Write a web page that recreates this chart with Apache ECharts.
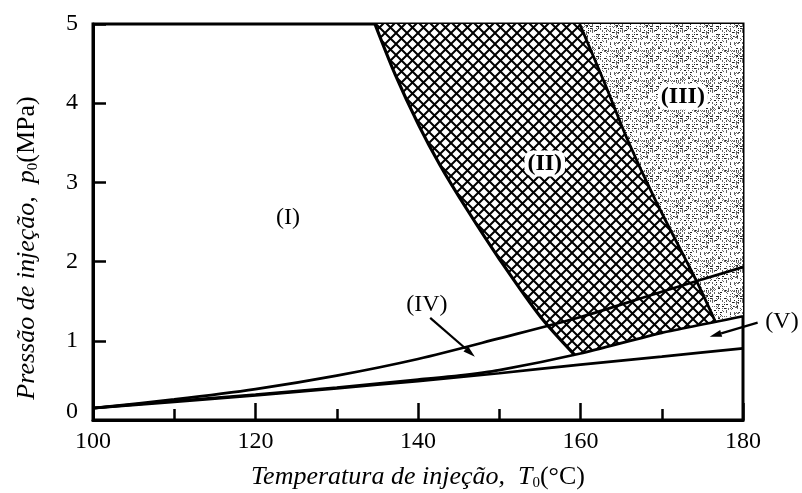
<!DOCTYPE html>
<html><head><meta charset="utf-8">
<script src="https://cdn.jsdelivr.net/npm/echarts@6/dist/echarts.min.js"></script>
<style>html,body{margin:0;padding:0;background:#fff}#c{width:802px;height:493px}</style>
</head><body><div id="c"></div>
<script>
// ---- data (T in °C, p in MPa) ----
const xTicks = [100, 120, 140, 160, 180];
const yTicks = [0, 1, 2, 3, 4, 5];
const upperLine  = [[100,0.15],[110,0.26],[120,0.39],[130,0.56],[140,0.77],[150,1.03],[160,1.30],[170,1.62],[180,1.93]];
const middleLine = [[100,0.15],[110,0.24],[120,0.32],[130,0.41],[140,0.51],[145,0.56],[150,0.63],[160,0.84],[170,1.10],[180,1.31]];
const bottomLine = [[100,0.15],[110,0.23],[120,0.31],[130,0.40],[140,0.49],[145,0.54],[150,0.59],[160,0.70],[170,0.80],[180,0.905]];
const leftBoundary  = [[134.7,5],[137.2,4.36],[140.1,3.72],[142.7,3.22],[145.9,2.68],[150.1,2.02],[155.1,1.30],[159.3,0.82]];
const rightBoundary = [[159.9,5],[162.9,4.27],[165.8,3.535],[169.2,2.78],[174.3,1.75],[176.6,1.24]];
const regionNames = ['(I)', '(II)', '(III)', '(IV)', '(V)'];
const regionT = [124.0, 155.6, 172.6, 141.1, 184.8];
const regionP = [2.56, 3.24, 4.08, 1.45, 1.24];
const arrowFrom = [[141.5, 1.29], [181.8, 1.23]];
const arrowTo   = [[147.0, 0.80], [175.9, 1.05]];

// ---- build regions from the curves ----
const yMax = yTicks[yTicks.length - 1];
const xMax = xTicks[xTicks.length - 1];
const lBot = leftBoundary[leftBoundary.length - 1];
const rBot = rightBoundary[rightBoundary.length - 1];
const regionII = leftBoundary
  .concat(middleLine.filter(p => p[0] > lBot[0] && p[0] < rBot[0]))
  .concat(rightBoundary.slice().reverse());
const regionIII = rightBoundary
  .concat(middleLine.filter(p => p[0] > rBot[0]))
  .concat([[xMax, yMax]]);

// ---- textures ----
function crossHatch() {
  const s = 11;
  const c = document.createElement('canvas'); c.width = s; c.height = s;
  const g = c.getContext('2d');
  g.fillStyle = '#fff'; g.fillRect(0, 0, s, s);
  g.strokeStyle = '#000'; g.lineWidth = 2.0;
  g.beginPath(); g.moveTo(-1, -1); g.lineTo(s + 1, s + 1); g.moveTo(s + 1, -1); g.lineTo(-1, s + 1); g.stroke();
  return { image: c, repeat: 'repeat' };
}
function stipple() {
  const s = 30;
  const c = document.createElement('canvas'); c.width = s; c.height = s;
  const g = c.getContext('2d');
  g.fillStyle = '#fff'; g.fillRect(0, 0, s, s);
  let h = 98765;
  const nxt = () => { h = (h * 1103515245 + 12345) & 0x7fffffff; return h >> 4; };
  for (let i = 0; i < 165; i++) {
    const x = nxt() % s, y = nxt() % s, k = nxt() % 5;
    g.fillStyle = (k < 2) ? '#222' : '#666';
    if (k === 1) g.fillRect(x, y, 2, 1);
    else if (k === 2) g.fillRect(x, y, 1, 2);
    else if (k === 3) { g.fillRect(x, y, 1, 1); g.fillRect(x + 1, y + 1, 1, 1); }
    else g.fillRect(x, y, 1, 1);
  }
  return { image: c, repeat: 'repeat' };
}

const FONT = 'Liberation Serif';
const black = '#000';

function polySeries(points, fill) {
  return {
    type: 'custom', coordinateSystem: 'cartesian2d', z: 1, silent: true,
    data: [[points[0][0], points[0][1]]],
    renderItem: (params, api) => ({
      type: 'polygon',
      shape: { points: points.map(p => api.coord(p)) },
      style: { fill: fill, stroke: null }
    })
  };
}
function lineSeries(data, w, smooth) {
  return { type: 'line', data: data, showSymbol: false, symbol: 'none', z: 3, silent: true,
    smooth: smooth, lineStyle: { color: black, width: w } };
}
const titleRich = {
  i: { fontFamily: FONT, fontSize: 26, fontStyle: 'italic', fill: black, lineHeight: 28 },
  s: { fontFamily: FONT, fontSize: 15, fill: black, lineHeight: 8, verticalAlign: 'bottom' },
  n: { fontFamily: FONT, fontSize: 26, fill: black, lineHeight: 28 }
};

const chart = echarts.init(document.getElementById('c'), null, { renderer: 'canvas' });
chart.setOption({
  animation: false,
  backgroundColor: '#fff',
  grid: { left: 93, right: 59, top: 24, bottom: 73, show: true, borderColor: black, borderWidth: 3, backgroundColor: 'transparent' },
  xAxis: {
    type: 'value', min: xTicks[0], max: xMax, interval: 20,
    axisLine: { lineStyle: { color: black, width: 3 } },
    axisTick: { inside: true, length: 17, lineStyle: { color: black, width: 2.5 } },
    minorTick: { show: true, splitNumber: 2, length: 11, lineStyle: { color: black, width: 2.5 } },
    splitLine: { show: false },
    axisLabel: { margin: 10, color: black, fontFamily: FONT, fontSize: 24 }
  },
  yAxis: {
    type: 'value', min: yTicks[0], max: yMax, interval: 1,
    axisLine: { show: true, lineStyle: { color: black, width: 3 } },
    axisTick: { show: true, inside: true, length: 13, lineStyle: { color: black, width: 2.5 } },
    splitLine: { show: false },
    axisLabel: {
      margin: 15, color: black, fontFamily: FONT, fontSize: 24,
      formatter: v => v === 0 ? '{z|0}' : String(v),
      rich: { z: { padding: [0, 0, 16, 0], fontFamily: FONT, fontSize: 24, color: black } }
    }
  },
  graphic: [
    { type: 'text', x: 418, y: 477, z: 10,
      style: { text: '{i|Temperatura de injeção,  T}{s|0}{n|(°C)}', align: 'center', verticalAlign: 'middle', rich: titleRich } },
    { type: 'text', x: 27, y: 248, rotation: Math.PI / 2, z: 10,
      style: { text: '{i|Pressão de injeção,  p}{s|0}{n|(MPa)}', align: 'center', verticalAlign: 'middle', rich: titleRich } }
  ],
  series: [
    polySeries(regionIII, stipple()),
    polySeries(regionII, crossHatch()),
    lineSeries(upperLine, 2.7, 0.3),
    lineSeries(middleLine, 2.7, 0.2),
    lineSeries(bottomLine, 2.7, 0.2),
    lineSeries(leftBoundary, 3.2, 0.3),
    lineSeries(rightBoundary, 2.8, 0.3),
    {
      type: 'custom', coordinateSystem: 'cartesian2d', z: 5, silent: true, clip: false,
      data: arrowFrom.map((f, i) => [f[0], f[1], arrowTo[i][0], arrowTo[i][1]]),
      renderItem: (params, api) => {
        const a = api.coord([api.value(0), api.value(1)]);
        const b = api.coord([api.value(2), api.value(3)]);
        const ang = Math.atan2(b[1] - a[1], b[0] - a[0]);
        const L = 12, W = 3.5;
        const bx = b[0] - L * Math.cos(ang), by = b[1] - L * Math.sin(ang);
        return { type: 'group', children: [
          { type: 'line', shape: { x1: a[0], y1: a[1], x2: bx, y2: by }, style: { stroke: black, lineWidth: 2.2 } },
          { type: 'polygon', shape: { points: [b,
              [bx + W * Math.sin(ang), by - W * Math.cos(ang)],
              [bx - W * Math.sin(ang), by + W * Math.cos(ang)]] }, style: { fill: black } }
        ] };
      }
    },
    {
      type: 'custom', coordinateSystem: 'cartesian2d', z: 6, silent: true, clip: false,
      data: regionNames.map((n, i) => [regionT[i], regionP[i], i]),
      renderItem: (params, api) => {
        const i = api.value(2);
        const p = api.coord([api.value(0), api.value(1)]);
        const boxed = (i === 1 || i === 2);
        return { type: 'text', x: p[0], y: p[1], style: {
          text: regionNames[i], fill: black, fontFamily: FONT, fontSize: 24,
          fontWeight: boxed ? 'bold' : 'normal',
          align: 'center', verticalAlign: 'middle',
          backgroundColor: boxed ? '#fff' : null, padding: boxed ? [1, 3, 1, 3] : 0, borderRadius: 8
        } };
      }
    }
  ]
});
</script></body></html>
